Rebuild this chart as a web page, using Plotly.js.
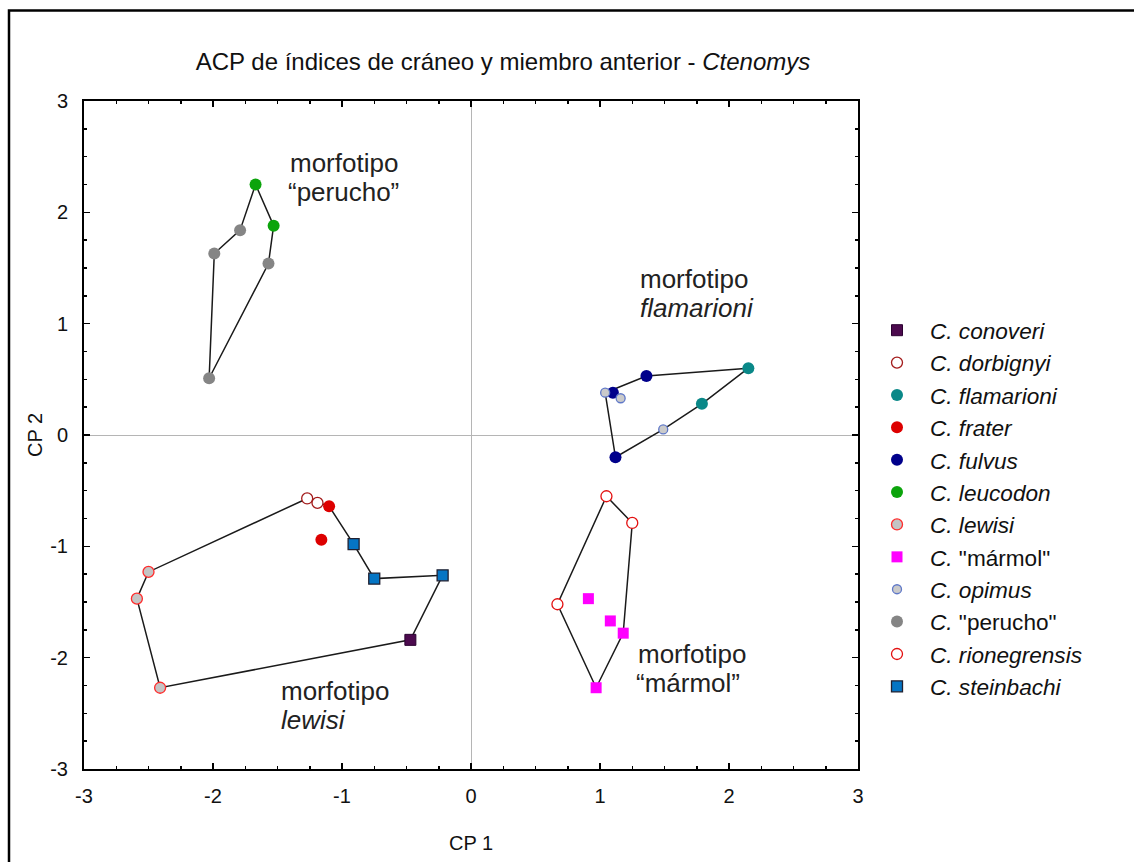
<!DOCTYPE html>
<html>
<head>
<meta charset="utf-8">
<script src="https://cdn.plot.ly/plotly-3.0.1.min.js"></script>
<style>html,body{margin:0;padding:0;background:#fff;}#chart{width:1134px;height:862px;}</style>
</head>
<body>
<div id="chart"></div>
<script>
// ---- data ----
const speciesKeys = ['conoveri','dorbignyi','flamarioni','frater','fulvus','leucodon','lewisi','marmol','opimus','perucho','rionegrensis','steinbachi'];
const speciesLabels = ['<i>C. conoveri</i>','<i>C. dorbignyi</i>','<i>C. flamarioni</i>','<i>C. frater</i>','<i>C. fulvus</i>','<i>C. leucodon</i>','<i>C. lewisi</i>','<i>C.</i> "mármol"','<i>C. opimus</i>','<i>C.</i> "perucho"','<i>C. rionegrensis</i>','<i>C. steinbachi</i>'];

const conoveriX = [-0.47];            const conoveriY = [-1.84];
const dorbignyiX = [-1.27, -1.19];    const dorbignyiY = [-0.57, -0.61];
const flamarioniX = [2.15, 1.79];     const flamarioniY = [0.60, 0.28];
const fraterX = [-1.10, -1.16];       const fraterY = [-0.64, -0.94];
const fulvusX = [1.36, 1.10, 1.12];   const fulvusY = [0.53, 0.38, -0.20];
const leucodonX = [-1.67, -1.53];     const leucodonY = [2.25, 1.88];
const lewisiX = [-2.50, -2.59, -2.41];const lewisiY = [-1.23, -1.47, -2.27];
const marmolX = [0.91, 1.08, 1.18, 0.97]; const marmolY = [-1.47, -1.67, -1.78, -2.27];
const opimusX = [1.04, 1.16, 1.49];   const opimusY = [0.38, 0.33, 0.05];
const peruchoX = [-1.79, -1.99, -1.57, -2.03]; const peruchoY = [1.84, 1.63, 1.54, 0.51];
const rionegrensisX = [1.05, 1.25, 0.67]; const rionegrensisY = [-0.55, -0.79, -1.52];
const steinbachiX = [-0.91, -0.75, -0.22]; const steinbachiY = [-0.98, -1.29, -1.26];

// convex hulls (polygons) as references to points: [species, index]
const hullPerucho = [['leucodon',0],['perucho',0],['perucho',1],['perucho',3],['perucho',2],['leucodon',1],['leucodon',0]];
const hullFlamarioni = [['opimus',0],['fulvus',0],['flamarioni',0],['flamarioni',1],['opimus',2],['fulvus',2],['opimus',0]];
const hullLewisi = [['dorbignyi',0],['frater',0],['steinbachi',0],['steinbachi',1],['steinbachi',2],['conoveri',0],['lewisi',2],['lewisi',1],['lewisi',0],['dorbignyi',0]];
const hullMarmol = [['rionegrensis',0],['rionegrensis',1],['marmol',2],['marmol',3],['rionegrensis',2],['rionegrensis',0]];

const tickVals = [-3,-2,-1,0,1,2,3];
const tickText = ['-3','-2','-1','0','1','2','3'];

// ---- styles ----
const data = {
  conoveri:{x:conoveriX,y:conoveriY}, dorbignyi:{x:dorbignyiX,y:dorbignyiY}, flamarioni:{x:flamarioniX,y:flamarioniY},
  frater:{x:fraterX,y:fraterY}, fulvus:{x:fulvusX,y:fulvusY}, leucodon:{x:leucodonX,y:leucodonY},
  lewisi:{x:lewisiX,y:lewisiY}, marmol:{x:marmolX,y:marmolY}, opimus:{x:opimusX,y:opimusY},
  perucho:{x:peruchoX,y:peruchoY}, rionegrensis:{x:rionegrensisX,y:rionegrensisY}, steinbachi:{x:steinbachiX,y:steinbachiY}
};
const styles = {
  conoveri:{symbol:'square', size:11, color:'#4c0a4e', line:{color:'#2a0030', width:1}},
  dorbignyi:{symbol:'circle', size:11, color:'#ffffff', line:{color:'#a31b1b', width:1.3}},
  flamarioni:{symbol:'circle', size:12, color:'#0a8888', line:{color:'#0a8888', width:0}},
  frater:{symbol:'circle', size:12, color:'#dd0000', line:{color:'#dd0000', width:0}},
  fulvus:{symbol:'circle', size:12, color:'#00008b', line:{color:'#00008b', width:0}},
  leucodon:{symbol:'circle', size:12, color:'#0ca40c', line:{color:'#0ca40c', width:0}},
  lewisi:{symbol:'circle', size:11, color:'#c4c4c4', line:{color:'#ff2b2b', width:1.3}},
  marmol:{symbol:'square', size:11, color:'#ff00ff', line:{color:'#ff00ff', width:0}},
  opimus:{symbol:'circle', size:9, color:'#cacaca', line:{color:'#5f78c8', width:1.3}},
  perucho:{symbol:'circle', size:12, color:'#858585', line:{color:'#858585', width:0}},
  rionegrensis:{symbol:'circle', size:11, color:'#ffffff', line:{color:'#e31010', width:1.3}},
  steinbachi:{symbol:'square', size:11, color:'#0575c4', line:{color:'#202030', width:1.3}}
};

const traces = [];
[hullPerucho, hullFlamarioni, hullLewisi, hullMarmol].forEach(h => {
  traces.push({
    type:'scatter', mode:'lines', showlegend:false, hoverinfo:'skip',
    x: h.map(p => data[p[0]].x[p[1]]), y: h.map(p => data[p[0]].y[p[1]]),
    line:{color:'#1a1a1a', width:1.5}
  });
});
speciesKeys.forEach((k, i) => {
  traces.push({
    type:'scatter', mode:'markers', name:speciesLabels[i],
    x:data[k].x, y:data[k].y, marker:styles[k]
  });
});

const FONT = 'Liberation Sans, Arial, sans-serif';
const L = 84, R = 858, T = 101, B = 769;
const px2x = px => (px - L) / (R - L);
const px2y = py => (B - py) / (B - T);

const annLines = [
  ['morfotipo', 288, 163], ['“perucho”', 286, 192],
  ['morfotipo', 638, 279], ['<i>flamarioni</i>', 638, 308],
  ['morfotipo', 636, 654], ['“mármol”', 634, 683],
  ['morfotipo', 279, 691], ['<i>lewisi</i>', 279, 720]
];

const layout = {
  width:1134, height:862,
  margin:{l:L, r:1134-R, t:T, b:862-B},
  paper_bgcolor:'#ffffff', plot_bgcolor:'#ffffff',
  font:{family:FONT, color:'#111111', size:20},
  title:{text:'ACP de índices de cráneo y miembro anterior - <i>Ctenomys</i>', font:{size:24, family:FONT, color:'#111'},
         xref:'container', x:503/1134, xanchor:'center', yref:'container', y:1-62/862, yanchor:'middle'},
  xaxis:{range:[-3,3], tickvals:tickVals, ticktext:tickText, ticks:'inside', ticklen:6, tickwidth:1.5, tickcolor:'#000',
         showline:true, linecolor:'#000', linewidth:2, mirror:'ticks', showgrid:false,
         zeroline:true, zerolinecolor:'#b5b5b5', zerolinewidth:1,
         minor:{dtick:0.25, ticks:'inside', ticklen:3, tickcolor:'#000', tickwidth:1.5, showgrid:false},
         tickfont:{size:20}, ticklabelstandoff:8,
         title:{text:'CP 1', font:{size:20}, standoff:30}, fixedrange:true},
  yaxis:{range:[-3,3], tickvals:tickVals, ticktext:tickText, ticks:'inside', ticklen:6, tickwidth:1.5, tickcolor:'#000',
         showline:true, linecolor:'#000', linewidth:2, mirror:'ticks', showgrid:false,
         zeroline:true, zerolinecolor:'#b5b5b5', zerolinewidth:1,
         minor:{dtick:0.25, ticks:'inside', ticklen:3, tickcolor:'#000', tickwidth:1.5, showgrid:false},
         tickfont:{size:20}, ticklabelstandoff:10,
         title:{text:'CP 2', font:{size:20}, standoff:2}, fixedrange:true},
  legend:{x:px2x(864), xanchor:'left', y:px2y(309), yanchor:'top', font:{size:22.6, family:FONT, color:'#111'},
          itemwidth:56, bgcolor:'rgba(0,0,0,0)', traceorder:'normal'},
  showlegend:true,
  annotations: annLines.map(a => ({text:a[0], xref:'paper', yref:'paper', x:px2x(a[1]), y:px2y(a[2]),
      xanchor:'left', yanchor:'middle', showarrow:false, font:{size:26, family:FONT, color:'#222'}})),
  shapes:[
    {type:'rect', xref:'paper', yref:'paper', x0:px2x(9), x1:px2x(1150), y0:px2y(880), y1:px2y(10.5),
     line:{color:'#000', width:2.5}, fillcolor:'rgba(0,0,0,0)', layer:'above'}
  ]
};

Plotly.newPlot('chart', traces, layout, {displayModeBar:false, staticPlot:true});
</script>
</body>
</html>
